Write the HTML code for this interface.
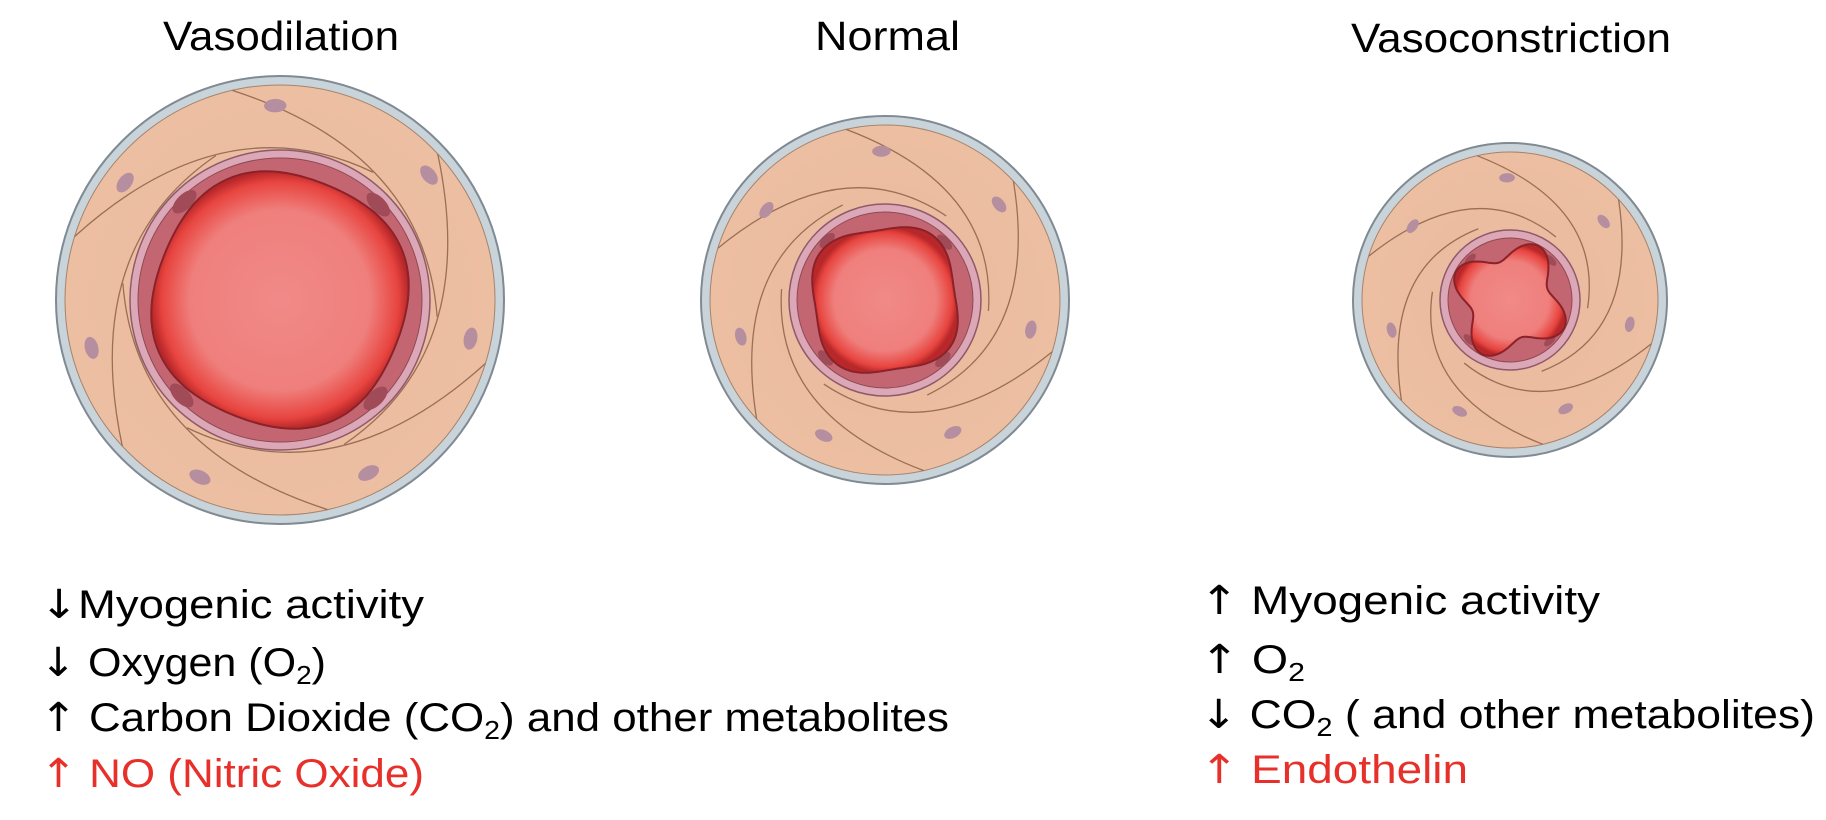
<!DOCTYPE html>
<html><head><meta charset="utf-8">
<style>
html,body{margin:0;padding:0;background:#fff;width:1826px;height:820px;overflow:hidden}
svg{display:block}
text{font-family:"Liberation Sans",sans-serif}
.ar{font-family:"DejaVu Sans",sans-serif;font-size:40px}
</style></head>
<body>
<svg id="fig" width="1826" height="820" viewBox="0 0 1826 820">
<defs>
<radialGradient id="lum" cx="50%" cy="50%" r="50%">
<stop offset="0%" stop-color="#f08a88"/><stop offset="70%" stop-color="#ef7f7c"/><stop offset="92%" stop-color="#e8443f"/><stop offset="100%" stop-color="#b8282a"/>
</radialGradient>
<radialGradient id="mus" cx="50%" cy="50%" r="50%">
<stop offset="0%" stop-color="#e9b89c"/><stop offset="100%" stop-color="#edbfa2"/>
</radialGradient>
</defs>
<g id="vessels"></g>
<g font-size="41" fill="#000">
<text x="163" y="50" textLength="236" lengthAdjust="spacingAndGlyphs">Vasodilation</text>
<text x="815" y="50" textLength="145" lengthAdjust="spacingAndGlyphs">Normal</text>
<text x="1351" y="52" textLength="320" lengthAdjust="spacingAndGlyphs">Vasoconstriction</text>
</g>
<g font-size="40" fill="#000">
<text x="40" y="618" textLength="384" lengthAdjust="spacingAndGlyphs"><tspan class="ar">↓</tspan>Myogenic activity</text>
<text x="40" y="676" textLength="286" lengthAdjust="spacingAndGlyphs"><tspan class="ar">↓</tspan> Oxygen (O<tspan font-size="26" dy="8">2</tspan><tspan dy="-8">)</tspan></text>
<text x="40" y="731" textLength="909" lengthAdjust="spacingAndGlyphs"><tspan class="ar">↑</tspan> Carbon Dioxide (CO<tspan font-size="26" dy="8">2</tspan><tspan dy="-8">) and other metabolites</tspan></text>
<text x="40" y="787" fill="#e8302a" textLength="384" lengthAdjust="spacingAndGlyphs"><tspan class="ar">↑</tspan> NO (Nitric Oxide)</text>
</g>
<g font-size="40" fill="#000">
<text x="1200" y="614" textLength="400" lengthAdjust="spacingAndGlyphs"><tspan class="ar">↑</tspan> Myogenic activity</text>
<text x="1200" y="673" textLength="105" lengthAdjust="spacingAndGlyphs"><tspan class="ar">↑</tspan> O<tspan font-size="26" dy="8">2</tspan></text>
<text x="1200" y="728" textLength="615" lengthAdjust="spacingAndGlyphs"><tspan class="ar">↓</tspan> CO<tspan font-size="26" dy="8">2</tspan><tspan dy="-8"> ( and other metabolites)</tspan></text>
<text x="1200" y="783" fill="#e8302a" textLength="268" lengthAdjust="spacingAndGlyphs"><tspan class="ar">↑</tspan> Endothelin</text>
</g>
</svg>
<script>
const NS="http://www.w3.org/2000/svg";
const g=document.getElementById('vessels');
function mk(tag,attrs,parent){const e=document.createElementNS(NS,tag);for(const k in attrs)e.setAttribute(k,attrs[k]);(parent||g).appendChild(e);return e;}
function blob(cx,cy,R,a,rot){let d="";for(let i=0;i<=120;i++){const t=i/120*2*Math.PI;const r=R*(1+a*Math.cos(4*(t+rot)));const x=cx+r*Math.cos(t),y=cy+r*Math.sin(t);d+=(i?"L":"M")+x.toFixed(1)+","+y.toFixed(1);}return d+"Z";}
const vessels=[
 {name:'vasodilation',cx:280,cy:300,R:224,ring:150,lum:128,a:0.03,rot:0.4},
 {name:'normal',cx:885,cy:300,R:184,ring:96,lum:75,a:-0.07,rot:0.15},
 {name:'vasoconstriction',cx:1510,cy:300,R:157,ring:70,lum:50,a:-0.22,rot:0.3}
];
vessels.forEach(v=>{
 const grp=mk('g',{});
 
 
 mk('circle',{cx:v.cx,cy:v.cy,r:v.R,fill:'#c9d3da',stroke:'#7f8a93','stroke-width':2},grp);
 mk('circle',{cx:v.cx,cy:v.cy,r:v.R-9,fill:'url(#mus)',stroke:'#a5836c','stroke-width':1},grp);
 for(let k=0;k<6;k++){
  const t=k/6*2*Math.PI+0.3;
  const r1=v.R-9, r2=v.ring+8;
  const x1=v.cx+r1*Math.cos(t),y1=v.cy+r1*Math.sin(t);
  const t2=t+1.9;
  const x2=v.cx+r2*Math.cos(t2),y2=v.cy+r2*Math.sin(t2);
  const cm=(r1+r2)/2+20;
  const xc=v.cx+cm*Math.cos(t+1.0),yc=v.cy+cm*Math.sin(t+1.0);
  mk('path',{d:`M${x1},${y1}Q${xc},${yc} ${x2},${y2}`,fill:'none',stroke:'#9a6f55','stroke-width':1.3},grp);
 }
 for(let k=0;k<7;k++){
  const t=k/7*2*Math.PI+0.2;
  const rr=v.ring+(v.R-v.ring)*0.6;
  const x=v.cx+rr*Math.cos(t),y=v.cy+rr*Math.sin(t);
  mk('ellipse',{cx:x,cy:y,rx:v.R*0.05,ry:v.R*0.03,transform:`rotate(${t*180/Math.PI+90} ${x} ${y})`,fill:'#b58ea0'},grp);
 }
 mk('circle',{cx:v.cx,cy:v.cy,r:v.ring,fill:'#dca7b6',stroke:'#8d5a6a','stroke-width':1.5},grp);
 mk('circle',{cx:v.cx,cy:v.cy,r:v.ring-8,fill:'#c36672',stroke:'#8d4a55','stroke-width':1},grp);
 for(let k=0;k<4;k++){
  const t=k/4*2*Math.PI+0.8;const rr=v.ring-13;
  const x=v.cx+rr*Math.cos(t),y=v.cy+rr*Math.sin(t);
  mk('ellipse',{cx:x,cy:y,rx:v.ring*0.1,ry:v.ring*0.05,transform:`rotate(${t*180/Math.PI+90} ${x} ${y})`,fill:'#a14b58'},grp);
 }
 mk('path',{d:blob(v.cx,v.cy,v.lum,v.a,v.rot),fill:'url(#lum)',stroke:'#8a2228','stroke-width':2},grp);
});
</script>
</body></html>
